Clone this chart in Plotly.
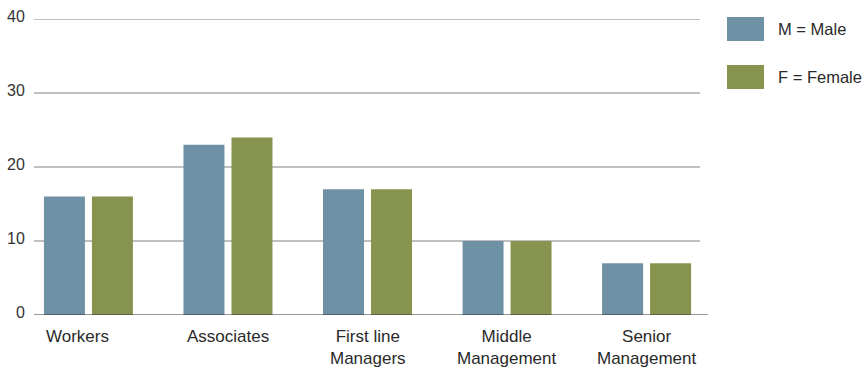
import plotly.graph_objects as go

categories = ["Workers", "Associates", "First line<br>Managers", "Middle<br>Management", "Senior<br>Management"]
male = [16, 23, 17, 10, 7]
female = [16, 24, 17, 10, 7]
y_ticks = [0, 10, 20, 30, 40]
series_names = ["M = Male", "F = Female"]

c_male = "#6F91A5"
c_female = "#87944F"
font_family = "Liberation Sans, Arial, sans-serif"

fig = go.Figure()
fig.add_trace(go.Bar(x=list(range(len(categories))), y=male, name=series_names[0],
                     marker=dict(color=c_male, line=dict(width=0)), showlegend=False))
fig.add_trace(go.Bar(x=list(range(len(categories))), y=female, name=series_names[1],
                     marker=dict(color=c_female, line=dict(width=0)), showlegend=False))

shapes = []
# gridlines (not reaching the right end), zero line full width
for t in y_ticks:
    if t == 0:
        shapes.append(dict(type="line", xref="paper", yref="y", x0=0, x1=1, y0=t, y1=t,
                           line=dict(color="#333333", width=1.2), layer="above"))
    else:
        shapes.append(dict(type="line", xref="paper", yref="y", x0=0, x1=0.988, y0=t, y1=t,
                           line=dict(color="#808080", width=1.2), layer="below"))

annotations = []
# y tick labels
for t in y_ticks:
    annotations.append(dict(x=0, xref="paper", y=t, yref="y", text=str(t), showarrow=False,
                            xanchor="right", yanchor="middle", xshift=-7, yshift=3,
                            font=dict(family=font_family, size=16, color="#333333")))
# category labels
for i, c in enumerate(categories):
    annotations.append(dict(x=i, xref="x", y=0, yref="y", text=c, showarrow=False,
                            xanchor="center", yanchor="top", yshift=-10,
                            xshift=-11 if i == 0 else 0,
                            font=dict(family=font_family, size=17, color="#2a2a2a"),
                            align="center"))

# legend swatches and texts
leg = [(series_names[0], c_male, 1.0068, 0.9257, 0.9662),
       (series_names[1], c_female, 0.8446, 0.7635, 0.8041)]
for name, col, ytop, ybot, ymid in leg:
    shapes.append(dict(type="rect", xref="paper", yref="paper", x0=1.0282, x1=1.0831,
                       y0=ybot, y1=ytop, fillcolor=col, line=dict(width=0)))
    annotations.append(dict(x=1.1009, xref="paper", y=ymid, yref="paper", text=name,
                            showarrow=False, xanchor="left", yanchor="middle",
                            font=dict(family=font_family, size=16.5, color="#2a2a2a")))

fig.update_layout(
    width=866, height=371,
    margin=dict(l=34, r=158, t=19, b=56),
    paper_bgcolor="white", plot_bgcolor="white",
    barmode="group", bargap=0.312, bargroupgap=0.146,
    xaxis=dict(range=[-0.39, 4.44], showticklabels=False, showgrid=False,
               zeroline=False, showline=False, ticks=""),
    yaxis=dict(range=[0, 40], showticklabels=False, showgrid=False,
               zeroline=False, showline=False, ticks=""),
    shapes=shapes, annotations=annotations,
)

fig.write_html("out.html")
